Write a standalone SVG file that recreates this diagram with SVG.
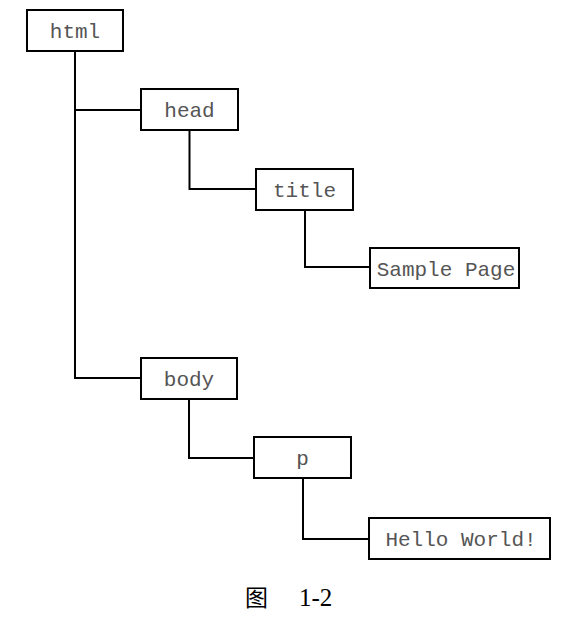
<svg xmlns="http://www.w3.org/2000/svg" width="588" height="623" viewBox="0 0 588 623">
<style>
.box{fill:#fff;stroke:#000;stroke-width:2}
.lbl{font-family:"Liberation Mono","DejaVu Sans Mono",monospace;font-size:21px;fill:#555;text-anchor:middle}
.con{fill:none;stroke:#000;stroke-width:2}
.cap{font-family:"Liberation Serif","Noto Sans CJK SC",serif;font-size:23px;fill:#000}
</style>
<rect width="588" height="623" fill="#fff"/>
<g id="connectors">
<path class="con" d="M75 51 V378 H141"/>
<path class="con" d="M75 110 H141"/>
<path class="con" d="M189.5 130 V189 H256"/>
<path class="con" d="M305 210 V267 H370"/>
<path class="con" d="M189 399 V458 H254"/>
<path class="con" d="M303 478 V539 H369"/>
</g>
<g id="html"><rect class="box" x="27" y="10" width="96" height="41"/><text class="lbl" x="75" y="38">html</text></g>
<g id="head"><rect class="box" x="141" y="89" width="97" height="41"/><text class="lbl" x="189.5" y="117">head</text></g>
<g id="title"><rect class="box" x="256" y="169" width="97" height="41"/><text class="lbl" x="304.5" y="197">title</text></g>
<g id="sample"><rect class="box" x="370" y="248" width="149" height="40"/><text class="lbl" x="446" y="276">Sample Page</text></g>
<g id="body"><rect class="box" x="141" y="358" width="96" height="41"/><text class="lbl" x="189" y="386">body</text></g>
<g id="p"><rect class="box" x="254" y="437" width="97" height="41"/><text class="lbl" x="302.5" y="465">p</text></g>
<g id="hello"><rect class="box" x="369" y="518" width="181" height="41"/><text class="lbl" x="461" y="546">Hello World!</text></g>
<text class="cap" x="245" y="606">图</text>
<text class="cap" x="299" y="606" style="font-size:25px">1-2</text>
</svg>
